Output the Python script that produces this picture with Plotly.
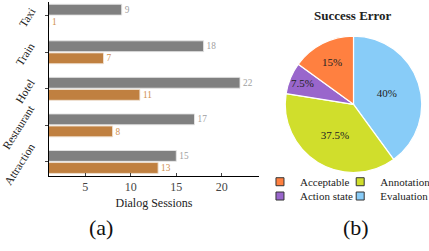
import plotly.graph_objects as go

categories = ["Taxi", "Train", "Hotel", "Restaurant", "Attraction"]
gray_vals = [9, 18, 22, 17, 15]
orange_vals = [1, 7, 11, 8, 13]
x_ticks = [5, 10, 15, 20]

# pie slices, clockwise from 12 o'clock
pie_labels = ["Evaluation", "Annotation", "Action state", "Acceptable"]
pie_values = [40, 37.5, 7.5, 15]
pie_colors = ["#88CCF8", "#D0DE2C", "#9966CC", "#FF8040"]

# legend layout (column-major, as in the reference)
legend_labels = ["Acceptable", "Action state", "Annotation", "Evaluation"]
legend_colors = ["#FF8040", "#9966CC", "#D0DE2C", "#88CCF8"]

FONT = "Liberation Serif, Times New Roman, serif"
GRAY = "#808080"
ORANGE = "#C08040"

fig = go.Figure()
fig.add_trace(go.Bar(
    y=categories, x=gray_vals, orientation="h", name="gray",
    marker=dict(color=GRAY, line=dict(color="rgba(230,230,230,0.9)", width=1)),
    text=[str(v) for v in gray_vals], textposition="outside",
    outsidetextfont=dict(color="#a0a0a0", size=12, family=FONT),
    cliponaxis=False, showlegend=False,
))
fig.add_trace(go.Bar(
    y=categories, x=orange_vals, orientation="h", name="orange",
    marker=dict(color=ORANGE, line=dict(color="rgba(240,225,210,0.9)", width=1)),
    text=[str(v) for v in orange_vals], textposition="outside",
    outsidetextfont=dict(color="#D08E4E", size=12, family=FONT),
    cliponaxis=False, showlegend=False,
))

fig.add_trace(go.Pie(
    labels=pie_labels, values=pie_values, sort=False, direction="clockwise",
    rotation=0, marker=dict(colors=pie_colors, line=dict(color="white", width=1.2)),
    textinfo="percent", textposition="inside", insidetextorientation="horizontal",
    textfont=dict(family=FONT, size=11, color="#222"),
    domain=dict(x=[0.665, 0.983], y=[0.312, 0.857]),
    showlegend=False, hoverinfo="label+percent",
))

legend_ids = ["legend", "legend2", "legend3", "legend4"]
legend_pos = [(0.606, 0.276), (0.606, 0.219), (0.793, 0.276), (0.793, 0.219)]
legend_layout = {}
for lab, col, lid, (lx, ly) in zip(legend_labels, legend_colors, legend_ids, legend_pos):
    fig.add_trace(go.Scatter(
        x=[None], y=[None], mode="markers", name=lab,
        marker=dict(symbol="square", size=8, color=col, line=dict(color="#333", width=1)),
        legend=lid,
    ))
    legend_layout[lid] = dict(font=dict(family=FONT, size=11, color="#222"),
                              bgcolor="rgba(0,0,0,0)", orientation="v",
                              x=lx, y=ly, xanchor="left", yanchor="middle",
                              itemwidth=30)
fig.update_layout(**legend_layout)

# y category labels, rotated and centred on each category like the reference
annotations = [
    dict(text=c, x=0.093, y=c, xref="paper", yref="y", xanchor="right", yanchor="middle",
         yshift=-2, textangle=-58, showarrow=False,
         font=dict(family=FONT, size=11.5, color="#222"))
    for c in categories
]
annotations += [
    dict(text="<b>Success Error</b>", x=0.823, y=0.937, xref="paper", yref="paper",
         xanchor="center", yanchor="middle",
         showarrow=False, font=dict(family=FONT, size=13, color="#222")),
    dict(text="(a)", x=0.235, y=0.092, xref="paper", yref="paper",
         xanchor="center", yanchor="middle",
         showarrow=False, font=dict(family=FONT, size=22, color="#111")),
    dict(text="(b)", x=0.83, y=0.092, xref="paper", yref="paper",
         xanchor="center", yanchor="middle",
         showarrow=False, font=dict(family=FONT, size=22, color="#111")),
]

fig.update_layout(
    width=429, height=251,
    margin=dict(l=0, r=0, t=0, b=0, autoexpand=False),
    paper_bgcolor="white", plot_bgcolor="white",
    barmode="group", bargap=0.34, bargroupgap=0.1,
    font=dict(family=FONT, size=12, color="#222"),
    xaxis=dict(domain=[0.114, 0.604], range=[1, 24.1], tickvals=x_ticks,
               showgrid=False, zeroline=False, showline=True, linecolor="black",
               linewidth=1, ticks="inside", ticklen=3, tickcolor="#444",
               automargin=False,
               tickfont=dict(family=FONT, size=12, color="#444"),
               title=dict(text="Dialog Sessions", font=dict(family=FONT, size=12, color="#222"),
                          standoff=5)),
    yaxis=dict(domain=[0.299, 0.992], range=[4.383, -0.375], type="category",
               categoryorder="array", categoryarray=categories,
               showgrid=False, zeroline=False, showline=True, linecolor="black",
               linewidth=1, ticks="outside", ticklen=3, tickcolor="#444",
               showticklabels=False, automargin=False),
    annotations=annotations,
)

fig.write_html("out.html", config={"displayModeBar": False},
               post_script="document.body.style.margin='0';document.body.style.padding='0';")
